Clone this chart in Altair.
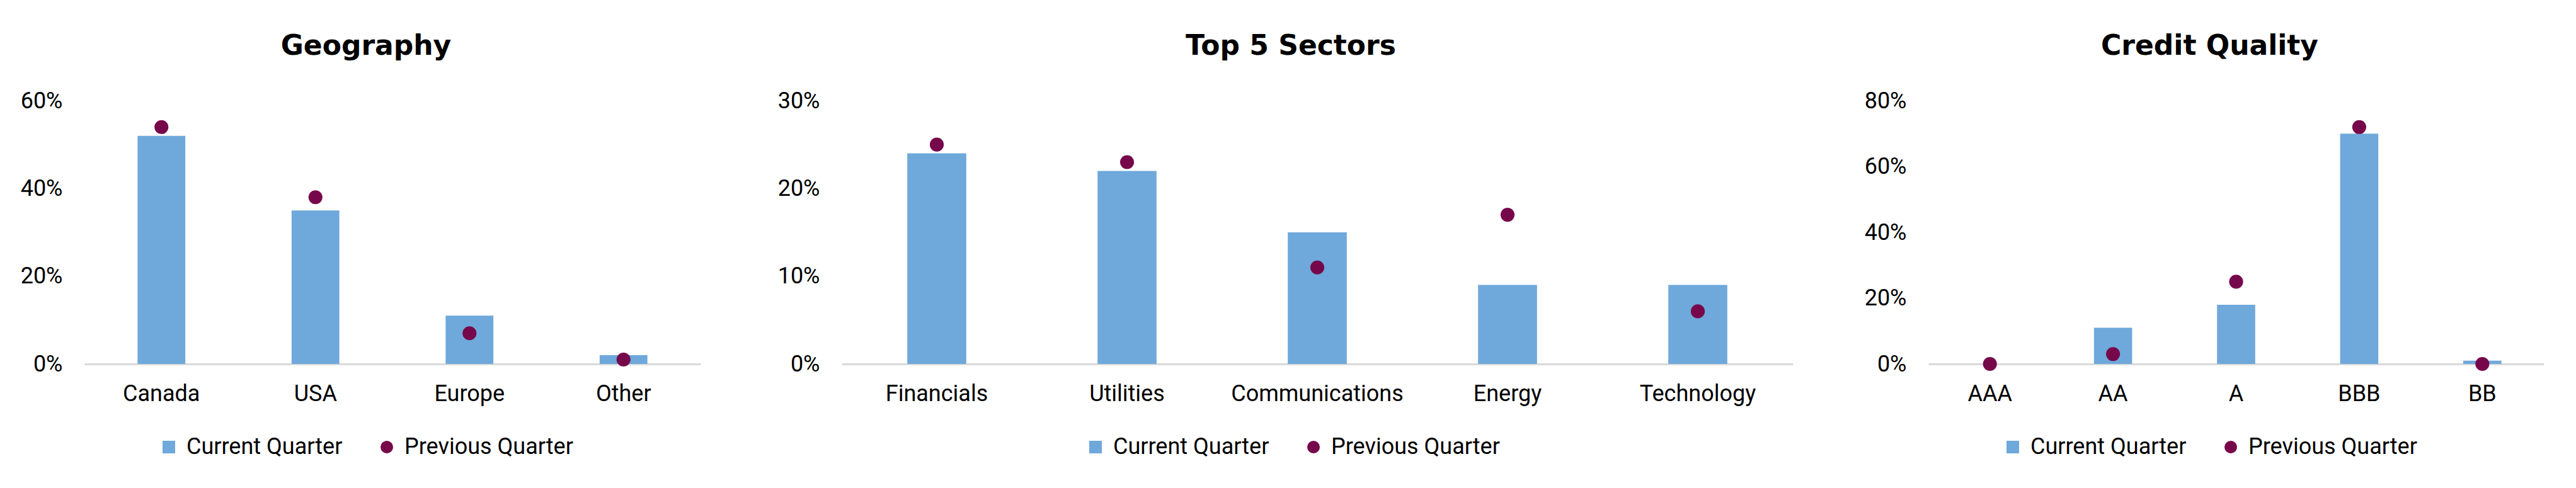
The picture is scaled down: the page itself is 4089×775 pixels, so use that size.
import altair as alt
import pandas as pd

# ---- data ----
series_names = ["Current Quarter", "Previous Quarter"]

geo_cats = ["Canada", "USA", "Europe", "Other"]
geo_current = [52, 35, 11, 2]
geo_previous = [54, 38, 7, 1]

sec_cats = ["Financials", "Utilities", "Communications", "Energy", "Technology"]
sec_current = [24, 22, 15, 9, 9]
sec_previous = [25, 23, 11, 17, 6]

cq_cats = ["AAA", "AA", "A", "BBB", "BB"]
cq_current = [0, 11, 18, 70, 1]
cq_previous = [0, 3, 25, 72, 0]

BLUE = "#6FA8DB"
PURPLE = "#77074B"
LABEL_FONT = "Roboto"
TITLE_FONT = "DejaVu Sans"


def panel(title, cats, cur, prev, ymax, ticks, width, min_ext, leg_x):
    n = len(cats)
    df = pd.DataFrame({
        "cat": cats + cats,
        "series": [series_names[0]] * n + [series_names[1]] * n,
        "value": [v / 100 for v in cur] + [v / 100 for v in prev],
    })
    x = alt.X("cat:N", sort=cats,
              scale=alt.Scale(paddingInner=0.69, paddingOuter=0.345),
              axis=alt.Axis(title=None, labelAngle=0, ticks=False, tickSize=0,
                            domainColor="#D9D9D9", domainWidth=3,
                            labelFont=LABEL_FONT, labelFontSize=36, labelLimit=1000,
                            labelColor="#000000", labelPadding=30))
    y = alt.Y("value:Q",
              scale=alt.Scale(domain=[0, ymax], nice=False, zero=True),
              axis=alt.Axis(title=None, values=[t / 100 for t in ticks], format=".0%",
                            grid=False, domain=False, ticks=False, tickSize=0,
                            labelFont=LABEL_FONT, labelFontSize=36, labelLimit=1000,
                            labelColor="#000000", labelPadding=35,
                            minExtent=min_ext, maxExtent=min_ext))
    leg = alt.Legend(title=None, orient="none", direction="horizontal",
                     legendX=leg_x, legendY=528, labelFont=LABEL_FONT,
                     labelFontSize=36, labelColor="#000000", labelLimit=1000,
                     symbolSize=400, symbolStrokeWidth=0, labelOffset=10,
                     columnPadding=52, padding=0, clipHeight=44)
    color = alt.Color("series:N",
                      scale=alt.Scale(domain=series_names, range=[BLUE, PURPLE]),
                      legend=leg)
    shape = alt.Shape("series:N",
                      scale=alt.Scale(domain=series_names, range=["square", "circle"]),
                      legend=leg)
    base = alt.Chart(df)
    bars = base.transform_filter(alt.datum.series == series_names[0]).mark_bar().encode(
        x=x, y=y, color=color)
    pts = base.transform_filter(alt.datum.series == series_names[1]).mark_point(
        filled=True, size=490, opacity=1).encode(x=x, y=y, color=color, shape=shape)
    return alt.layer(bars, pts).properties(
        width=width, height=418,
        title=alt.TitleParams(text=title, font=TITLE_FONT, fontSize=44,
                              fontWeight="bold", color="#000000", anchor="middle",
                              frame="group", dx=-42, offset=11,
                              baseline="alphabetic"))


p1 = panel("Geography", geo_cats, geo_current, geo_previous, 0.6, [0, 20, 40, 60],
           978, 126, 116)
p2 = panel("Top 5 Sectors", sec_cats, sec_current, sec_previous, 0.3, [0, 10, 20, 30],
           1510, 224, 385)
p3 = panel("Credit Quality", cq_cats, cq_current, cq_previous, 0.8, [0, 20, 40, 60, 80],
           977, 215, 116)

chart = alt.hconcat(p1, p2, p3, spacing=0).resolve_scale(
    color="independent", shape="independent"
).resolve_legend(
    color="independent", shape="independent"
).properties(
    padding={"left": 0, "top": 44, "right": 0, "bottom": 0}
).configure_view(strokeWidth=0)

chart.save("out.html", embed_options={"renderer": "svg", "actions": False})
